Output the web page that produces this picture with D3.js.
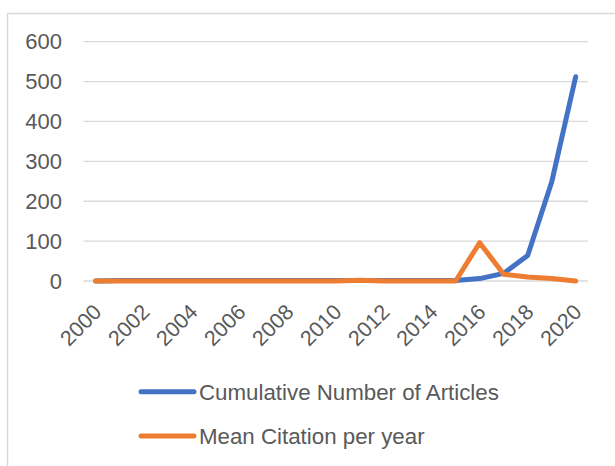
<!DOCTYPE html>
<html>
<head>
<meta charset="utf-8">
<script src="https://cdn.jsdelivr.net/npm/d3@7"></script>
<style>
  body { margin: 0; background: #fff; }
  text { font-family: "Liberation Sans", Arial, sans-serif; fill: #595959; }
</style>
</head>
<body>
<div id="chart"></div>
<script>
var years = d3.range(2000, 2021);
var cumulativeArticles = [0, 1, 1, 1, 1, 1, 1, 1, 1, 1, 1, 1, 1, 1, 1, 1, 6, 19, 64, 248, 512];
var meanCitation = [0, 0, 0, 0, 0, 0, 0, 0, 0, 0, 0, 2, 0, 0, 0, 0, 96, 17, 10, 6, 0];
var yTicks = [0, 100, 200, 300, 400, 500, 600];
var xTickYears = [2000, 2002, 2004, 2006, 2008, 2010, 2012, 2014, 2016, 2018, 2020];

var series = [
    {name: "Cumulative Number of Articles", values: cumulativeArticles, color: "#4472C4"},
    {name: "Mean Citation per year", values: meanCitation, color: "#ED7D31"}
];

var width = 615, height = 466;

var svg = d3.select("#chart").append("svg")
    .attr("width", width)
    .attr("height", height);

// chart area border (only left/top visible)
svg.append("path")
    .attr("d", "M7.5,466 L7.5,13.5 L615,13.5")
    .attr("fill", "none")
    .attr("stroke", "#D9D9D9")
    .attr("stroke-width", 1.5);

var x = d3.scalePoint()
    .domain(years)
    .range([83.5, 587.7])
    .padding(0.5);

var y = d3.scaleLinear()
    .domain([0, 600])
    .range([281, 41.7]);

// gridlines
svg.append("g").selectAll("line")
    .data(yTicks)
    .enter().append("line")
    .attr("x1", 83.5)
    .attr("x2", 587.7)
    .attr("y1", function(d){ return y(d); })
    .attr("y2", function(d){ return y(d); })
    .attr("stroke", "#D9D9D9")
    .attr("stroke-width", 1.3);

// y labels
svg.append("g").selectAll("text")
    .data(yTicks)
    .enter().append("text")
    .attr("x", 62)
    .attr("y", function(d){ return y(d); })
    .attr("dy", "0.35em")
    .attr("text-anchor", "end")
    .style("font-size", "22px")
    .text(function(d){ return d; });

// x labels
svg.append("g").selectAll("text")
    .data(xTickYears)
    .enter().append("text")
    .attr("transform", function(d){ return "translate(" + (x(d) + 2) + ",308) rotate(-45)"; })
    .attr("dy", "0.35em")
    .attr("text-anchor", "end")
    .style("font-size", "21.5px")
    .text(function(d){ return d; });

var line = d3.line()
    .x(function(d, i){ return x(years[i]); })
    .y(function(d){ return y(d); });

svg.append("g").selectAll("path")
    .data(series)
    .enter().append("path")
    .attr("d", function(d){ return line(d.values); })
    .attr("fill", "none")
    .attr("stroke", function(d){ return d.color; })
    .attr("stroke-width", 5)
    .attr("stroke-linejoin", "round")
    .attr("stroke-linecap", "round");

// legend
var legend = svg.append("g").selectAll("g")
    .data(series)
    .enter().append("g")
    .attr("transform", function(d, i){ return "translate(0," + (391.7 + i * 44.3) + ")"; });

legend.append("line")
    .attr("x1", 141)
    .attr("x2", 194)
    .attr("stroke", function(d){ return d.color; })
    .attr("stroke-width", 5)
    .attr("stroke-linecap", "round");

legend.append("text")
    .attr("x", 199)
    .attr("dy", "0.35em")
    .style("font-size", "22.3px")
    .text(function(d){ return d.name; });
</script>
</body>
</html>
